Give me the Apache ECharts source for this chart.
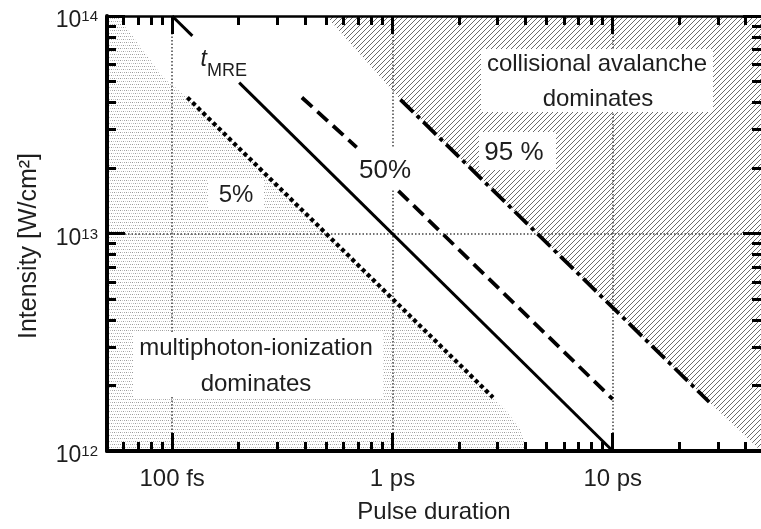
<!DOCTYPE html>
<html><head><meta charset="utf-8">
<script src="https://cdn.jsdelivr.net/npm/echarts@6/dist/echarts.min.js"></script>
<style>html,body{margin:0;padding:0;background:#fff}#c{width:761px;height:529px}</style>
</head><body><div id="c"></div>
<script>
// ---- axes (pulse duration in ps, intensity in W/cm^2) ----
const xMin = 0.0506, xMax = 47.1;
const yMin = 1e12, yMax = 1e14;
const xMajorTicks = [0.1, 1, 10];
const xMajorLabels = ['100 fs', '1 ps', '10 ps'];
const xMinorTicks = [0.06, 0.07, 0.08, 0.09, 0.2, 0.3, 0.4, 0.5, 0.6, 0.7, 0.8, 0.9, 2, 3, 4, 5, 6, 7, 8, 9, 20, 30, 40];
const yMajorTicks = [1e12, 1e13, 1e14];
const yMajorExponents = ['12', '13', '14'];
const yMinorTicks = [2e12, 3e12, 4e12, 5e12, 6e12, 7e12, 8e12, 9e12, 2e13, 3e13, 4e13, 5e13, 6e13, 7e13, 8e13, 9e13];
const gridX = [0.1, 1, 10];
const gridY = [1e13];

// ---- curves [pulse duration (ps), intensity (W/cm^2)] ----
const tmreSeg1 = [[0.1, 1e14], [0.1235, 8.1e13]];
const tmreSeg2 = [[0.2014, 4.94e13], [10, 1e12]];
const p5 = [[0.1172, 4.22e13], [2.86, 1.764e12]];
const p50a = [[0.388, 4.22e13], [0.688, 2.49e13]];
const p50b = [[1.064, 1.571e13], [10, 1.73e12]];
const p95 = [[1.087, 4.13e13], [27.4, 1.68e12]];

// ---- region boundaries ----
const mpiBoundary = [[0.0506, 1e14], [0.0565, 1e14], [0.0904, 5.27e13], [0.1172, 4.22e13], [2.86, 1.764e12], [3.34, 1.507e12], [3.82, 1.25e12], [4.11, 1e12]];
const avalancheBoundary = [[0.5, 1e14], [1.087, 4.13e13], [27.4, 1.68e12], [40.5, 1.16e12], [47.1, 1.0e12]];

const FONT = '"Liberation Sans", Arial, Helvetica, sans-serif';
const TXT = '#1e1e1e';

function makeHatch() {
  const c = document.createElement('canvas'); c.width = 5; c.height = 5;
  const g = c.getContext('2d');
  g.strokeStyle = '#6a6a6a'; g.lineWidth = 1;
  g.beginPath();
  g.moveTo(-1, 6); g.lineTo(6, -1);
  g.moveTo(-1, 1); g.lineTo(1, -1);
  g.moveTo(4, 6); g.lineTo(6, 4);
  g.stroke();
  return c;
}
function makeStipple() {
  const c = document.createElement('canvas'); c.width = 6; c.height = 6;
  const g = c.getContext('2d');
  const dots = [[0, 0, '#9a9a9a'], [2, 0, '#c4c4c4'], [4, 0, '#aaaaaa'], [1, 3, '#b8b8b8'], [3, 3, '#9c9c9c'], [5, 3, '#cacaca']];
  dots.forEach(d => { g.fillStyle = d[2]; g.fillRect(d[0], d[1], 1, 1); });
  return c;
}

const chart = echarts.init(document.getElementById('c'), null, {renderer: 'canvas'});

function nearestIndex(list, v) {
  let best = 0;
  list.forEach((t, i) => { if (Math.abs(Math.log10(t) - Math.log10(v)) < Math.abs(Math.log10(list[best]) - Math.log10(v))) best = i; });
  return best;
}

function xAxisCfg(pos, major, withLabels) {
  return {
    type: 'log', logBase: 10, min: xMin, max: xMax, position: pos, z: 30,
    axisLine: {show: major, onZero: false, lineStyle: {color: '#000', width: pos === 'bottom' ? 4 : 2.5}},
    axisTick: {show: true, inside: true, length: major ? 18 : 9, customValues: major ? xMajorTicks : xMinorTicks,
      lineStyle: {color: '#000', width: 3}},
    axisLabel: withLabels ? {show: true, customValues: xMajorTicks, margin: 16, color: TXT, fontSize: 24, fontFamily: FONT,
      formatter: v => xMajorLabels[nearestIndex(xMajorTicks, v)]
    } : {show: false},
    splitLine: {show: false}, minorTick: {show: false}, minorSplitLine: {show: false}
  };
}
function yAxisCfg(pos, major, withLabels) {
  return {
    type: 'log', logBase: 10, min: yMin, max: yMax, position: pos, z: 30,
    axisLine: {show: major && pos === 'left', onZero: false, lineStyle: {color: '#000', width: 4}},
    axisTick: {show: true, inside: true, length: major ? 18 : 9, customValues: major ? yMajorTicks : yMinorTicks,
      lineStyle: {color: '#000', width: 3}},
    axisLabel: withLabels ? {show: true, customValues: yMajorTicks, margin: 9, padding: [10, 0, 0, 0], color: TXT, fontFamily: FONT,
      formatter: v => '{b|10}{s|' + yMajorExponents[nearestIndex(yMajorTicks, v)] + '}',
      rich: {b: {fontSize: 23, lineHeight: 23, fontFamily: FONT, color: TXT}, s: {fontSize: 15, lineHeight: 8, verticalAlign: 'top', fontFamily: FONT, color: TXT}}
    } : {show: false},
    splitLine: {show: false}, minorTick: {show: false}, minorSplitLine: {show: false}
  };
}

const xAxes = [xAxisCfg('bottom', true, true), xAxisCfg('bottom', false, false), xAxisCfg('top', true, false), xAxisCfg('top', false, false)];
xAxes[0].name = 'Pulse duration';
xAxes[0].nameLocation = 'middle';
xAxes[0].nameGap = 49;
xAxes[0].nameTextStyle = {fontSize: 24, fontFamily: FONT, color: TXT};
const yAxes = [yAxisCfg('left', true, true), yAxisCfg('left', false, false), yAxisCfg('right', true, false), yAxisCfg('right', false, false)];

function lineSeries(data, type, width, cap) {
  return {type: 'line', data: data, z: 20, symbol: 'none', showSymbol: false, silent: true, animation: false,
    lineStyle: {color: '#000', width: width, type: type, cap: cap || 'butt'}};
}

const option = {
  animation: false,
  backgroundColor: '#fff',
  grid: {left: 107, right: -3, top: 16, bottom: 75, containLabel: false},
  xAxis: xAxes,
  yAxis: yAxes,
  series: [
    {type: 'line', data: mpiBoundary, z: 1, symbol: 'none', silent: true, lineStyle: {width: 0, opacity: 0},
      areaStyle: {origin: 'start', opacity: 1, color: {image: makeStipple(), repeat: 'repeat'}}},
    {type: 'line', data: avalancheBoundary, z: 1, symbol: 'none', silent: true, lineStyle: {width: 0, opacity: 0},
      areaStyle: {origin: 'end', opacity: 1, color: {image: makeHatch(), repeat: 'repeat'}}},
    {type: 'line', data: [], z: 3, silent: true,
      markLine: {symbol: 'none', silent: true, animation: false, label: {show: false},
        lineStyle: {type: [1.5, 2], width: 1.5, color: '#444'},
        data: gridX.map(v => ({xAxis: v})).concat(gridY.map(v => ({yAxis: v})))}},
    lineSeries(tmreSeg1, 'solid', 3),
    lineSeries(tmreSeg2, 'solid', 3),
    lineSeries(p5, [4, 3.2], 4.2),
    lineSeries(p50a, [14, 7], 3.8),
    lineSeries(p50b, [14, 7], 3.8),
    lineSeries(p95, [18, 5, 4, 5], 3.8)
  ],
  graphic: [
    {type: 'rect', z: 10, silent: true, shape: {x: 481, y: 49, width: 232, height: 63}, style: {fill: '#fff'}},
    {type: 'rect', z: 10, silent: true, shape: {x: 479, y: 132, width: 77, height: 38}, style: {fill: '#fff'}},
    {type: 'rect', z: 10, silent: true, shape: {x: 354, y: 148, width: 62, height: 42}, style: {fill: '#fff'}},
    {type: 'rect', z: 10, silent: true, shape: {x: 208, y: 179, width: 56, height: 30}, style: {fill: '#fff'}},
    {type: 'rect', z: 10, silent: true, shape: {x: 133, y: 332, width: 250, height: 65}, style: {fill: '#fff'}},
    {type: 'text', z: 11, x: 597, y: 64, style: {text: 'collisional avalanche', font: '24px ' + FONT, fill: TXT, align: 'center', verticalAlign: 'middle'}},
    {type: 'text', z: 11, x: 598, y: 99, style: {text: 'dominates', font: '24px ' + FONT, fill: TXT, align: 'center', verticalAlign: 'middle'}},
    {type: 'text', z: 11, x: 514, y: 153, style: {text: '95 %', font: '26px ' + FONT, fill: TXT, align: 'center', verticalAlign: 'middle'}},
    {type: 'text', z: 11, x: 385, y: 171, style: {text: '50%', font: '26px ' + FONT, fill: TXT, align: 'center', verticalAlign: 'middle'}},
    {type: 'text', z: 11, x: 236, y: 195, style: {text: '5%', font: '24px ' + FONT, fill: TXT, align: 'center', verticalAlign: 'middle'}},
    {type: 'text', z: 11, x: 256, y: 348, style: {text: 'multiphoton-ionization', font: '24px ' + FONT, fill: TXT, align: 'center', verticalAlign: 'middle'}},
    {type: 'text', z: 11, x: 256, y: 384, style: {text: 'dominates', font: '24px ' + FONT, fill: TXT, align: 'center', verticalAlign: 'middle'}},
    {type: 'text', z: 11, x: 207, y: 60, style: {text: 't', font: 'italic 23px ' + FONT, fill: TXT, align: 'right', verticalAlign: 'middle'}},
    {type: 'text', z: 11, x: 207, y: 71, style: {text: 'MRE', font: '18px ' + FONT, fill: TXT, align: 'left', verticalAlign: 'middle'}},
    {type: 'text', z: 11, x: 29, y: 246, rotation: Math.PI / 2, style: {text: 'Intensity [W/cm²]', font: '25px ' + FONT, fill: TXT, align: 'center', verticalAlign: 'middle'}}
  ]
};
chart.setOption(option);
</script>
</body></html>
